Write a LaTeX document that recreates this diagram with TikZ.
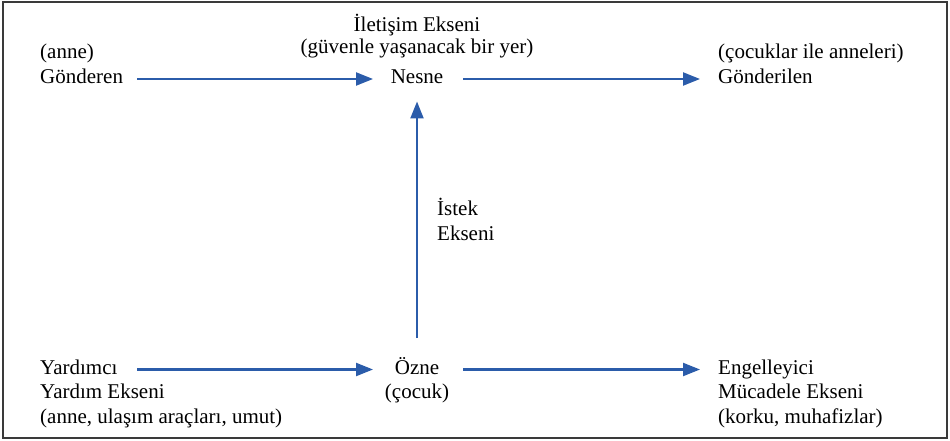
\documentclass[tikz,border=0pt]{standalone}
\usepackage{fontspec}
\setmainfont{Liberation Serif}
\newfontfamily\diagfont{Liberation Serif}
\usetikzlibrary{arrows.meta}
\definecolor{arrowblue}{HTML}{2B5CAA}
\definecolor{framegray}{HTML}{3A3A3A}
\begin{document}
\begin{tikzpicture}[x=1pt,y=-1pt,
  lbl/.style={inner sep=0pt,font=\diagfont\fontsize{21pt}{24.5pt}\selectfont},
  lw/.style={lbl,anchor=base west},
  lc/.style={lbl,anchor=base},
  arr/.style={draw=arrowblue,line width=2.2pt,-{Triangle[length=17pt,width=13pt]}},
  frame/.style={draw=framegray,line width=2pt}]
\useasboundingbox (0,0) rectangle (950,441);
\draw[frame] (3,2.5) rectangle (946.5,438);
% top row
\node[lw] (anne) at (40,59) {(anne)};
\node[lw] (gonderen) at (40,83.5) {Gönderen};
\node[lc] (ilet) at (417,31.5) {İletişim Ekseni};
\node[lc] (guven) at (417,54) {(güvenle yaşanacak bir yer)};
\node[lc] (nesne) at (417,83.5) {Nesne};
\node[lw] (cocuklar) at (718,59) {(çocuklar ile anneleri)};
\node[lw] (gonderilen) at (718,83.5) {Gönderilen};
% middle
\node[lw] (istek) at (437,215.5) {İstek};
\node[lw] (istekeks) at (437,240) {Ekseni};
% bottom row
\node[lw] (yardimci) at (40,374) {Yardımcı};
\node[lw] (yardimeks) at (40,398.5) {Yardım Ekseni};
\node[lw] (yardimlist) at (40,423) {(anne, ulaşım araçları, umut)};
\node[lc] (ozne) at (417,374) {Özne};
\node[lc] (cocuk) at (417,398.5) {(çocuk)};
\node[lw] (engel) at (718,374) {Engelleyici};
\node[lw] (mucadele) at (718,398.5) {Mücadele Ekseni};
\node[lw] (korku) at (718,423) {(korku, muhafizlar)};
% connectors
\draw[arr] ([xshift=97pt,yshift=4.5pt]gonderen.base west) -- ([xshift=-44pt,yshift=4.5pt]nesne.base);
\draw[arr] ([xshift=46pt,yshift=4.5pt]nesne.base) -- ([xshift=-18pt,yshift=4.5pt]gonderilen.base west);
\draw[arr] ([yshift=36pt]ozne.base) -- ([yshift=-18pt]nesne.base);
\draw[arr] ([xshift=97pt,yshift=4.5pt]yardimci.base west) -- ([xshift=-44pt,yshift=4.5pt]ozne.base);
\draw[arr] ([xshift=46pt,yshift=4.5pt]ozne.base) -- ([xshift=-18pt,yshift=4.5pt]engel.base west);
\end{tikzpicture}
\end{document}
